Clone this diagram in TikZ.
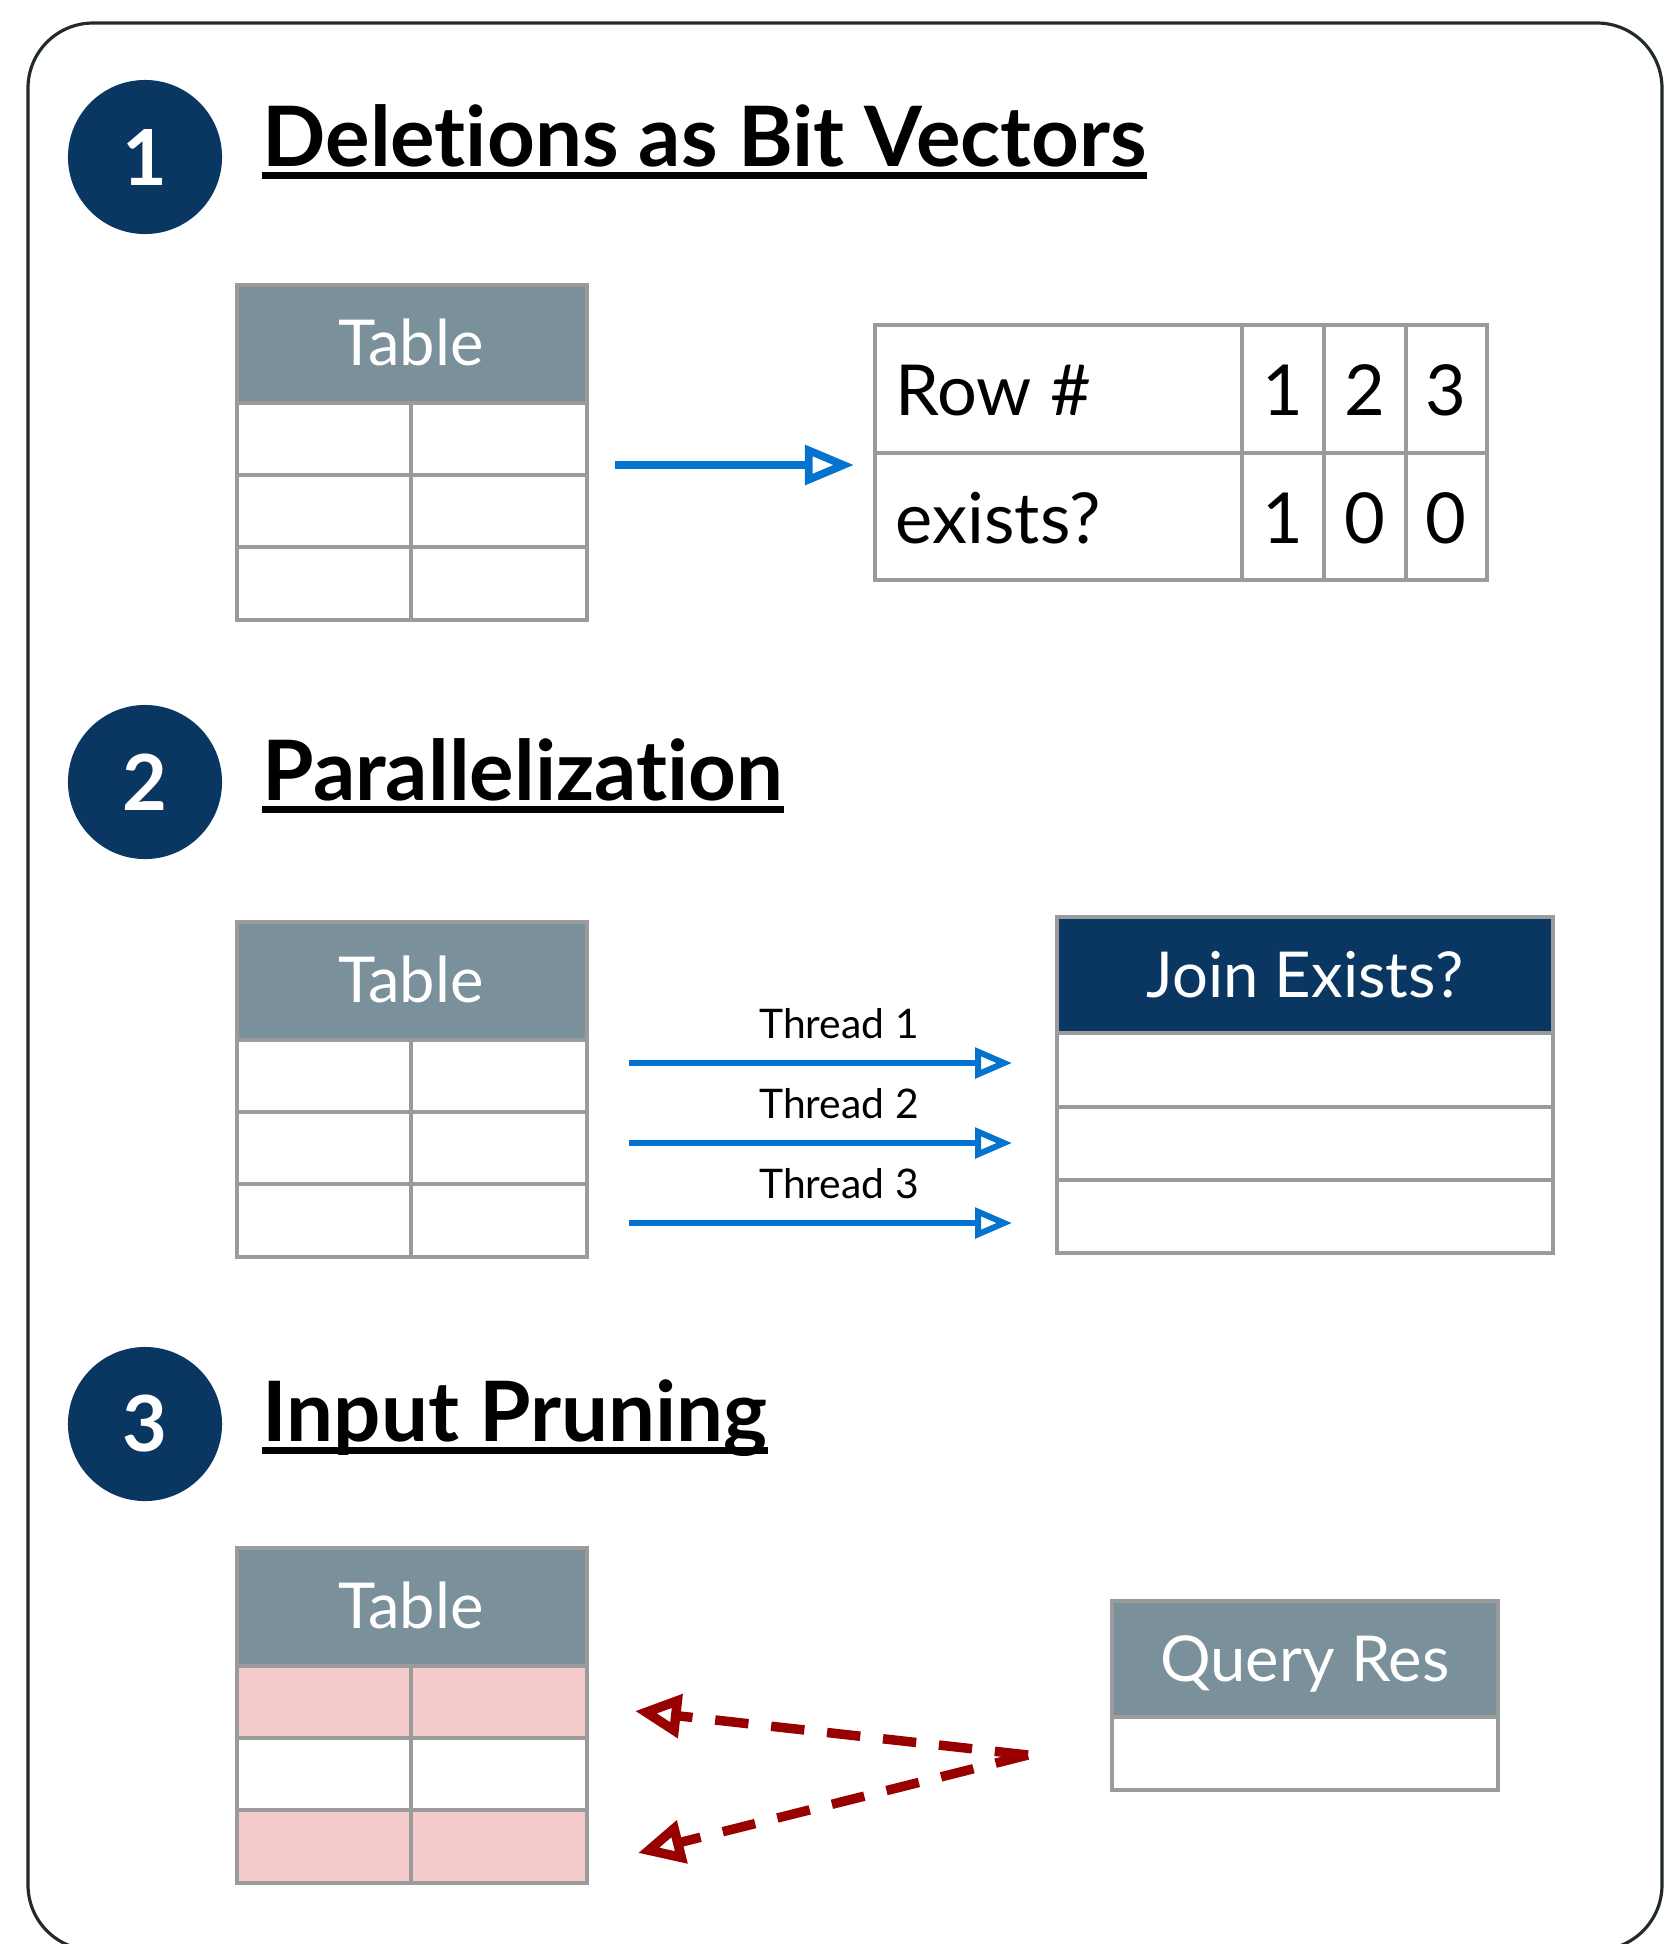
\documentclass[tikz,border=0pt]{standalone}
\usepackage{fontspec}
\setmainfont{Lato}[Ligatures={NoCommon}]
\usepackage{tikz}
\usetikzlibrary{arrows.meta}
\definecolor{navy}{HTML}{0A3761}
\definecolor{hdrgray}{HTML}{7A909B}
\definecolor{gridgray}{HTML}{9B9B9B}
\definecolor{rowpink}{HTML}{F4CCCC}
\definecolor{arrowblue}{HTML}{0472CF}
\definecolor{darkred}{HTML}{990000}
\definecolor{framegray}{HTML}{212A2C}

\begin{document}
\begin{tikzpicture}[x=0.01cm,y=-0.01cm,
  grid/.style={draw=gridgray,line width=1pt},
  numcirc/.style={circle,fill=navy,minimum size=1.54cm,inner sep=0pt,text=white,font=\fontsize{22}{26}\selectfont\bfseries},
  heading/.style={anchor=base west,inner sep=0pt,font=\fontsize{23.7}{28}\selectfont\bfseries},
  ul/.style={line width=2pt},
  hdrtext/.style={anchor=base,inner sep=0pt,text=white,font=\fontsize{18}{21}\selectfont},
  celltext/.style={inner sep=0pt,font=\fontsize{20}{24}\selectfont},
  threadlbl/.style={anchor=base,inner sep=0pt,font=\fontsize{11.6}{14}\selectfont},
  bluearrow/.style={draw=arrowblue,line width=2.2pt,-{Triangle[open,length=14pt,width=11pt]}},
  threadarrow/.style={draw=arrowblue,line width=1.7pt,-{Triangle[open,length=10.5pt,width=8.5pt]}},
  redarrow/.style={draw=darkred,line width=2.7pt,dash pattern=on 9.5pt off 6.5pt,-{Triangle[open,length=13pt,width=12pt]}}]
\useasboundingbox (0,0) rectangle (1665,1944);
\clip (0,0) rectangle (1665,1944);
% frame
\draw[framegray,line width=0.9pt,rounded corners=0.65cm] (28,23) rectangle (1662,1950);
% numbered headings
\node[numcirc] (c1) at (145,157) {1};
\node[numcirc] (c2) at (145,782) {2};
\node[numcirc] (c3) at (145,1424) {3};
\node[heading] (h1) at (262,166) {Deletions as Bit Vectors};
\node[heading] (h2) at (262,800) {Parallelization};
\node[heading] (h3) at (262,1441) {Input Pruning};
\foreach \h in {h1,h2,h3}
  \draw[ul] ([yshift=-2.7pt]\h.base west) -- ([yshift=-2.7pt]\h.base east);

% table 1
\fill[hdrgray] (237,285) rectangle (587,403);
\draw[grid] (237,285) rectangle (587,620);
\foreach \y in {403,475,547} \draw[grid] (237,\y) -- (587,\y);
\draw[grid] (411,403) -- (411,620);
\node[hdrtext] (tblA) at (411,365) {Table};

% bit vector
\draw[grid] (875,325) rectangle (1487,580);
\draw[grid] (875,453) -- (1487,453);
\foreach \x in {1242,1324,1406} \draw[grid] (\x,325) -- (\x,580);
\node[celltext,anchor=base west] (rowlbl) at (895,415) {Row \#};
\node[celltext,anchor=base west] (exlbl) at (895,543) {exists?};
\foreach \x/\a/\b [count=\i] in {1283/1/1,1365/2/0,1446/3/0} {
  \node[celltext,anchor=base] (rn\i) at (\x,415) {\a};
  \node[celltext,anchor=base] (ex\i) at (\x,543) {\b};
}
\coordinate (a1s) at (615,465);
\coordinate (a1e) at (854,465);
\draw[bluearrow] (a1s) -- (a1e);

% table 2
\begin{scope}[shift={(0,637)}]
\fill[hdrgray] (237,285) rectangle (587,403);
\draw[grid] (237,285) rectangle (587,620);
\foreach \y in {403,475,547} \draw[grid] (237,\y) -- (587,\y);
\draw[grid] (411,403) -- (411,620);
\node[hdrtext] (tblB) at (411,365) {Table};
\end{scope}

% join exists
\fill[navy] (1057,917) rectangle (1553,1033);
\draw[grid] (1057,917) rectangle (1553,1253);
\foreach \y in {1033,1107,1180} \draw[grid] (1057,\y) -- (1553,\y);
\node[hdrtext] (join) at (1305,997) {Join Exists?};
\foreach \y [count=\i] in {1063,1143,1223} {
  \coordinate (ts\i) at (629,\y);
  \coordinate (te\i) at (1012,\y);
  \draw[threadarrow] (ts\i) -- (te\i);
  \node[threadlbl] (tl\i) at (839,\y-25) {Thread \i};
}

% table 3
\begin{scope}[shift={(0,1263)}]
\fill[hdrgray] (237,285) rectangle (587,403);
\fill[rowpink] (237,403) rectangle (587,475);
\fill[rowpink] (237,547) rectangle (587,620);
\draw[grid] (237,285) rectangle (587,620);
\foreach \y in {403,475,547} \draw[grid] (237,\y) -- (587,\y);
\draw[grid] (411,403) -- (411,620);
\node[hdrtext] (tblC) at (411,365) {Table};
\end{scope}

% query result
\fill[hdrgray] (1112,1601) rectangle (1498,1717);
\draw[grid] (1112,1601) rectangle (1498,1790);
\draw[grid] (1112,1717) -- (1498,1717);
\node[hdrtext] (qres) at (1305,1681) {Query Res};
\coordinate (qs) at (1028,1755);
\coordinate (pr1) at (635,1711);
\coordinate (pr2) at (638,1853);
\draw[redarrow] (qs) -- (pr1);
\draw[redarrow] (qs) -- (pr2);
\end{tikzpicture}
\end{document}
